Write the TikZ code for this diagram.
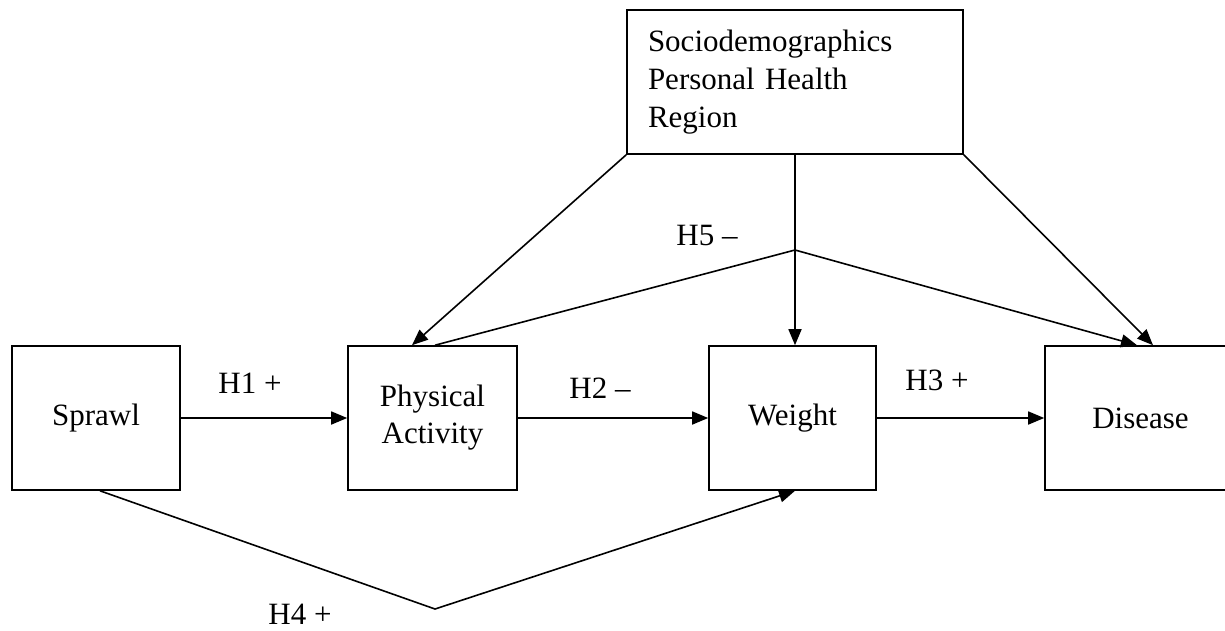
\documentclass[tikz,border=0pt]{standalone}
\usepackage{fontspec}
\setmainfont{Liberation Serif}
\usetikzlibrary{arrows.meta}

\begin{document}
\begin{tikzpicture}[x=1pt,y=-1pt,
  box/.style={draw,line width=1.6pt,minimum height=144pt,inner sep=0pt,align=center,
    font=\fontsize{31}{37}\selectfont},
  lbl/.style={font=\fontsize{31}{36}\selectfont,inner sep=0pt},
  link/.style={line width=1.6pt},
  arr/.style={link,-{Triangle[length=16pt,width=13pt]}}]
  \useasboundingbox (0,0) rectangle (1225,630);

  % main chain of boxes
  \node[box,minimum width=168pt] (sp) at (96,418) {Sprawl};
  \node[box,minimum width=169pt] (pa) at (432.5,418) {Physical\\Activity};
  \node[box,minimum width=167pt] (wt) at (792.5,418) {Weight};
  \node[box,minimum width=191pt] (ds) at (1140.5,418) {Disease};

  % control variables
  \node[draw,line width=1.6pt,minimum height=144pt,text width=294pt,inner xsep=21pt,
    inner ysep=0pt,align=left,font=\fontsize{31}{38}\selectfont] (ctl) at (795,82)
    {Sociodemographics\\Personal Health\\Region};

  % direct paths
  \draw[arr] (sp.east) -- (pa.west);
  \draw[arr] (pa.east) -- (wt.west);
  \draw[arr] (wt.east) -- (ds.west);

  % controls into the chain
  \draw[arr] (ctl.south west) -- ([xshift=-20.5pt]pa.north);
  \draw[arr] (ctl.south) -- (ctl.south |- wt.north);
  \draw[arr] (ctl.south east) -- ([xshift=12.5pt]ds.north);

  % moderation path H5
  \coordinate (j5) at (795,250);
  \draw[link] (j5) -- ([xshift=2.5pt]pa.north);
  \draw[arr] (j5) -- ([xshift=-3.5pt]ds.north);

  % sprawl to weight path H4
  \coordinate (v4) at (435,609);
  \draw[arr] ([xshift=4pt]sp.south) -- (v4) -- ([xshift=2.5pt]wt.south);

  % hypothesis labels
  \node[lbl] (h1) at (250,383) {H1 +};
  \node[lbl] (h2) at (600,388) {H2 –};
  \node[lbl] (h3) at (937,380) {H3 +};
  \node[lbl] (h4) at (300,614) {H4 +};
  \node[lbl] (h5) at (707,235) {H5 –};
\end{tikzpicture}
\end{document}
